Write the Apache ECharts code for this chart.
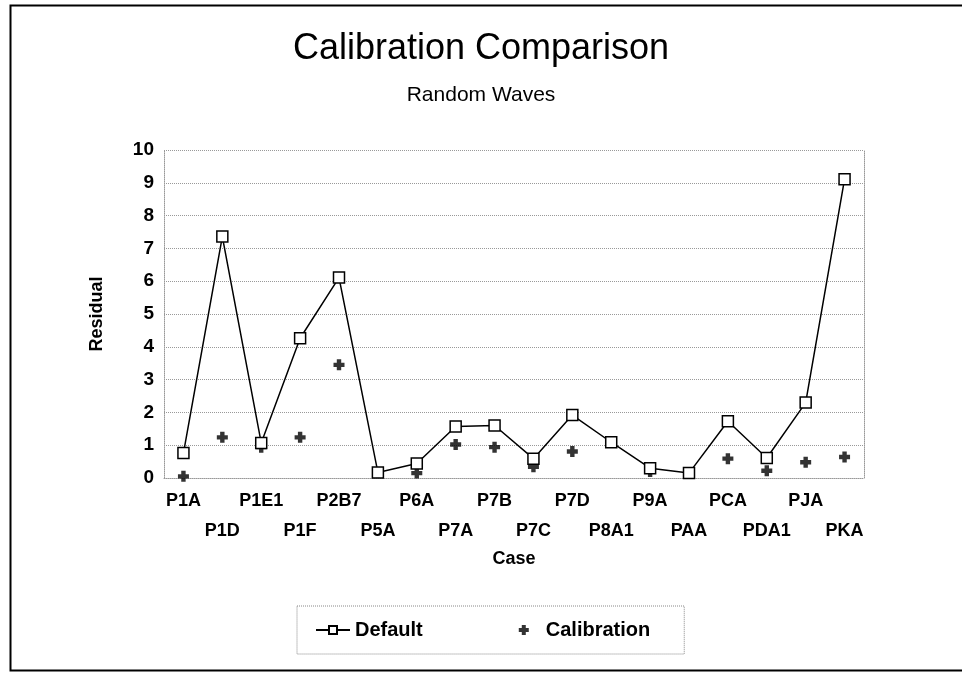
<!DOCTYPE html>
<html><head><meta charset="utf-8">
<script src="https://cdn.jsdelivr.net/npm/echarts@6/dist/echarts.min.js"></script>
<style>html,body{margin:0;padding:0;background:#fff}#c{width:962px;height:673px}</style>
</head><body><div id="c"></div>
<script>
const categories = ['P1A','P1D','P1E1','P1F','P2B7','P5A','P6A','P7A','P7B','P7C','P7D','P8A1','P9A','PAA','PCA','PDA1','PJA','PKA'];
const defaultValues = [0.76,7.36,1.07,4.26,6.11,0.17,0.44,1.57,1.60,0.59,1.92,1.09,0.30,0.15,1.73,0.61,2.30,9.11];
const calibrationValues = [0.05,1.24,0.94,1.24,3.45,0.17,0.15,1.02,0.94,0.34,0.81,1.09,0.20,0.15,0.59,0.22,0.48,0.64];
const yTicks = [0,1,2,3,4,5,6,7,8,9,10];

const plusPath = 'path://M3,0 H7 V3 H10 V7 H7 V10 H3 V7 H0 V3 H3 Z';
const chart = echarts.init(document.getElementById('c'));
const font = 'Liberation Sans, Arial, sans-serif';
chart.setOption({
  animation: false,
  backgroundColor: '#fff',
  textStyle: { fontFamily: font, color: '#000' },
  title: [
    { text: 'Calibration Comparison', left: 'center', top: 26, textStyle: { fontSize: 36, fontWeight: 'normal', color: '#000', fontFamily: font } },
    { text: 'Random Waves', left: 'center', top: 80, textStyle: { fontSize: 21, fontWeight: 'normal', color: '#000', fontFamily: font } }
  ],
  graphic: [
    { type: 'rect', left: 8, top: 3, shape: { width: 970, height: 665 }, style: { fill: 'none', stroke: '#000', lineWidth: 2 } }
  ],
  grid: { left: 164, right: 98, top: 150, bottom: 195 },
  legend: {
    left: 297, top: 606,
    padding: [14, 34, 14, 18],
    itemGap: 96,
    borderColor: '#888', borderWidth: 1, borderType: 'dotted',
    itemWidth: 34, itemHeight: 10,
    textStyle: { fontSize: 20, fontWeight: 'bold', color: '#000', fontFamily: font },
    data: [
      { name: 'Default' },
      { name: 'Calibration', icon: plusPath, itemStyle: { color: '#000' } }
    ]
  },
  xAxis: {
    type: 'category', data: categories, boundaryGap: true,
    name: 'Case', nameLocation: 'middle', nameGap: 72,
    nameTextStyle: { fontSize: 18, fontWeight: 'bold', color: '#000', fontFamily: font },
    axisLine: { lineStyle: { color: '#999', type: 'dotted' } },
    axisTick: { alignWithLabel: true, lineStyle: { color: '#999' }, length: 4 },
    axisLabel: {
      interval: 0, fontSize: 18, fontWeight: 'bold', color: '#000', lineHeight: 30, margin: 8,
      formatter: (v, i) => (i % 2 ? '\n' + v : v)
    },
    splitLine: { show: false }
  },
  yAxis: [{
    type: 'value', min: 0, max: 10, interval: 1,
    name: 'Residual', nameLocation: 'middle', nameGap: 58, nameRotate: 90,
    nameTextStyle: { fontSize: 18, fontWeight: 'bold', color: '#000', fontFamily: font },
    axisLine: { show: true, lineStyle: { color: '#999', type: 'dotted' } },
    axisTick: { show: false },
    axisLabel: { fontSize: 19, fontWeight: 'bold', color: '#000', margin: 10, formatter: v => yTicks.includes(v) ? String(v) : '' },
    splitLine: { show: true, lineStyle: { color: '#999', type: 'dotted' } }
  }, {
    type: 'value', min: 0, max: 10, interval: 1, position: 'right',
    axisLine: { show: true, lineStyle: { color: '#999', type: 'dotted' } },
    axisTick: { show: false }, axisLabel: { show: false }, splitLine: { show: false }
  }],
  series: [
    {
      name: 'Default', type: 'line', data: defaultValues,
      symbol: 'rect', symbolSize: 11,
      lineStyle: { color: '#000', width: 1.5 },
      itemStyle: { color: '#fff', borderColor: '#000', borderWidth: 1.5 },
      z: 3
    },
    {
      name: 'Calibration', type: 'scatter', data: calibrationValues,
      symbol: plusPath, symbolSize: 11,
      itemStyle: { color: '#000' },
      z: 2
    }
  ]
});
</script>
</body></html>
